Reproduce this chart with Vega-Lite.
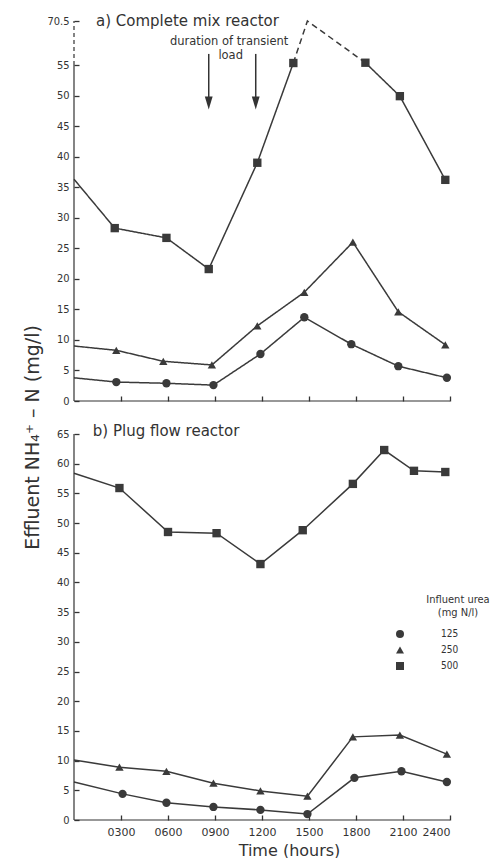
{
  "$schema": "https://vega.github.io/schema/vega-lite/v6.json",
  "background": "#ffffff",
  "padding": {"left": 22, "top": 14, "right": 0, "bottom": 0},
  "bounds": "flush",
  "spacing": 33,
  "config": {
    "font": "DejaVu Sans",
    "view": {"stroke": null},
    "axis": {
      "labelColor": "#333333",
      "titleColor": "#333333",
      "labelFont": "DejaVu Sans Condensed",
      "titleFont": "DejaVu Sans",
      "labelFontSize": 11
    },
    "text": {"font": "DejaVu Sans", "color": "#333333"}
  },
  "datasets": {
    "obs": [
      {"panel": "a", "series": "125", "seg": "a125", "dash": "solid", "hour": 0, "value": 3.8, "marker": false},
      {"panel": "a", "series": "125", "seg": "a125", "dash": "solid", "hour": 2.7, "value": 3.1, "marker": true},
      {"panel": "a", "series": "125", "seg": "a125", "dash": "solid", "hour": 5.9, "value": 2.9, "marker": true},
      {"panel": "a", "series": "125", "seg": "a125", "dash": "solid", "hour": 8.9, "value": 2.6, "marker": true},
      {"panel": "a", "series": "125", "seg": "a125", "dash": "solid", "hour": 11.9, "value": 7.7, "marker": true},
      {"panel": "a", "series": "125", "seg": "a125", "dash": "solid", "hour": 14.7, "value": 13.7, "marker": true},
      {"panel": "a", "series": "125", "seg": "a125", "dash": "solid", "hour": 17.7, "value": 9.3, "marker": true},
      {"panel": "a", "series": "125", "seg": "a125", "dash": "solid", "hour": 20.7, "value": 5.7, "marker": true},
      {"panel": "a", "series": "125", "seg": "a125", "dash": "solid", "hour": 23.8, "value": 3.8, "marker": true},
      {"panel": "a", "series": "250", "seg": "a250", "dash": "solid", "hour": 0, "value": 9.0, "marker": false},
      {"panel": "a", "series": "250", "seg": "a250", "dash": "solid", "hour": 2.7, "value": 8.3, "marker": true},
      {"panel": "a", "series": "250", "seg": "a250", "dash": "solid", "hour": 5.7, "value": 6.5, "marker": true},
      {"panel": "a", "series": "250", "seg": "a250", "dash": "solid", "hour": 8.8, "value": 5.9, "marker": true},
      {"panel": "a", "series": "250", "seg": "a250", "dash": "solid", "hour": 11.7, "value": 12.3, "marker": true},
      {"panel": "a", "series": "250", "seg": "a250", "dash": "solid", "hour": 14.7, "value": 17.8, "marker": true},
      {"panel": "a", "series": "250", "seg": "a250", "dash": "solid", "hour": 17.8, "value": 26.0, "marker": true},
      {"panel": "a", "series": "250", "seg": "a250", "dash": "solid", "hour": 20.7, "value": 14.6, "marker": true},
      {"panel": "a", "series": "250", "seg": "a250", "dash": "solid", "hour": 23.7, "value": 9.2, "marker": true},
      {"panel": "a", "series": "500", "seg": "a500-1", "dash": "solid", "hour": 0, "value": 36.3, "marker": false},
      {"panel": "a", "series": "500", "seg": "a500-1", "dash": "solid", "hour": 2.6, "value": 28.3, "marker": true},
      {"panel": "a", "series": "500", "seg": "a500-1", "dash": "solid", "hour": 5.9, "value": 26.7, "marker": true},
      {"panel": "a", "series": "500", "seg": "a500-1", "dash": "solid", "hour": 8.6, "value": 21.6, "marker": true},
      {"panel": "a", "series": "500", "seg": "a500-1", "dash": "solid", "hour": 11.7, "value": 39.0, "marker": true},
      {"panel": "a", "series": "500", "seg": "a500-1", "dash": "solid", "hour": 14.0, "value": 55.7, "marker": true},
      {"panel": "a", "series": "500", "seg": "a500-2", "dash": "dashed", "hour": 14.0, "value": 55.7, "marker": false},
      {"panel": "a", "series": "500", "seg": "a500-2", "dash": "dashed", "hour": 14.9, "value": 70.5, "marker": false},
      {"panel": "a", "series": "500", "seg": "a500-2", "dash": "dashed", "hour": 18.6, "value": 55.8, "marker": false},
      {"panel": "a", "series": "500", "seg": "a500-3", "dash": "solid", "hour": 18.6, "value": 55.8, "marker": true},
      {"panel": "a", "series": "500", "seg": "a500-3", "dash": "solid", "hour": 20.8, "value": 49.9, "marker": true},
      {"panel": "a", "series": "500", "seg": "a500-3", "dash": "solid", "hour": 23.7, "value": 36.2, "marker": true},
      {"panel": "b", "series": "125", "seg": "b125", "dash": "solid", "hour": 0, "value": 6.4, "marker": false},
      {"panel": "b", "series": "125", "seg": "b125", "dash": "solid", "hour": 3.1, "value": 4.4, "marker": true},
      {"panel": "b", "series": "125", "seg": "b125", "dash": "solid", "hour": 5.9, "value": 2.9, "marker": true},
      {"panel": "b", "series": "125", "seg": "b125", "dash": "solid", "hour": 8.9, "value": 2.2, "marker": true},
      {"panel": "b", "series": "125", "seg": "b125", "dash": "solid", "hour": 11.9, "value": 1.7, "marker": true},
      {"panel": "b", "series": "125", "seg": "b125", "dash": "solid", "hour": 14.9, "value": 1.0, "marker": true},
      {"panel": "b", "series": "125", "seg": "b125", "dash": "solid", "hour": 17.9, "value": 7.1, "marker": true},
      {"panel": "b", "series": "125", "seg": "b125", "dash": "solid", "hour": 20.9, "value": 8.2, "marker": true},
      {"panel": "b", "series": "125", "seg": "b125", "dash": "solid", "hour": 23.8, "value": 6.4, "marker": true},
      {"panel": "b", "series": "250", "seg": "b250", "dash": "solid", "hour": 0, "value": 10.1, "marker": false},
      {"panel": "b", "series": "250", "seg": "b250", "dash": "solid", "hour": 2.9, "value": 8.9, "marker": true},
      {"panel": "b", "series": "250", "seg": "b250", "dash": "solid", "hour": 5.9, "value": 8.2, "marker": true},
      {"panel": "b", "series": "250", "seg": "b250", "dash": "solid", "hour": 8.9, "value": 6.2, "marker": true},
      {"panel": "b", "series": "250", "seg": "b250", "dash": "solid", "hour": 11.9, "value": 4.9, "marker": true},
      {"panel": "b", "series": "250", "seg": "b250", "dash": "solid", "hour": 14.9, "value": 4.0, "marker": true},
      {"panel": "b", "series": "250", "seg": "b250", "dash": "solid", "hour": 17.8, "value": 14.0, "marker": true},
      {"panel": "b", "series": "250", "seg": "b250", "dash": "solid", "hour": 20.8, "value": 14.3, "marker": true},
      {"panel": "b", "series": "250", "seg": "b250", "dash": "solid", "hour": 23.8, "value": 11.1, "marker": true},
      {"panel": "b", "series": "500", "seg": "b500", "dash": "solid", "hour": 0, "value": 58.4, "marker": false},
      {"panel": "b", "series": "500", "seg": "b500", "dash": "solid", "hour": 2.9, "value": 55.9, "marker": true},
      {"panel": "b", "series": "500", "seg": "b500", "dash": "solid", "hour": 6.0, "value": 48.5, "marker": true},
      {"panel": "b", "series": "500", "seg": "b500", "dash": "solid", "hour": 9.1, "value": 48.3, "marker": true},
      {"panel": "b", "series": "500", "seg": "b500", "dash": "solid", "hour": 11.9, "value": 43.1, "marker": true},
      {"panel": "b", "series": "500", "seg": "b500", "dash": "solid", "hour": 14.6, "value": 48.8, "marker": true},
      {"panel": "b", "series": "500", "seg": "b500", "dash": "solid", "hour": 17.8, "value": 56.6, "marker": true},
      {"panel": "b", "series": "500", "seg": "b500", "dash": "solid", "hour": 19.8, "value": 62.3, "marker": true},
      {"panel": "b", "series": "500", "seg": "b500", "dash": "solid", "hour": 21.7, "value": 58.8, "marker": true},
      {"panel": "b", "series": "500", "seg": "b500", "dash": "solid", "hour": 23.7, "value": 58.6, "marker": true}
    ],
    "load": [
      {"event": "start of transient load", "hour": 8.6},
      {"event": "end of transient load", "hour": 11.6}
    ]
  },
  "vconcat": [
    {
      "width": 376,
      "height": 380,
      "encoding": {
        "x": {"type": "quantitative", "title": null,
              "scale": {"domain": [0, 24], "nice": false, "zero": false},
              "axis": {"values": [3, 6, 9, 12, 15, 18, 21, 24], "labels": false, "title": null,
                       "ticks": false, "domain": false, "labelOverlap": false,
                       "grid": true, "gridDash": [0, 375, 6, 2000], "gridColor": "#333333", "gridWidth": 1.3, "gridOpacity": 1}},
        "y": {"type": "quantitative", "title": null,
              "scale": {"domain": [0, 55, 70.5], "range": [380, 44, 0], "nice": false, "zero": false},
              "axis": {"values": [0, 5, 10, 15, 20, 25, 30, 35, 40, 45, 50, 55, 70.5], "title": null,
                       "labelExpr": "format(datum.value, '~g')", "labelOverlap": false, "labelBound": false,
                       "ticks": false, "labelPadding": 5, "domain": false,
                       "grid": true, "gridDash": [5, 2000], "gridColor": "#333333", "gridWidth": 1.3, "gridOpacity": 1}}
      },
      "layer": [
        {
          "data": {"name": "obs"},
          "transform": [{"filter": "datum.panel == 'a'"}],
          "mark": {"type": "line", "color": "#3a3a3a", "strokeWidth": 1.5},
          "encoding": {
            "x": {"field": "hour"},
            "y": {"field": "value"},
            "detail": {"field": "seg"},
            "strokeDash": {"field": "dash", "type": "nominal",
                           "scale": {"domain": ["solid", "dashed"], "range": [[1, 0], [6, 4]]}, "legend": null}
          }
        },
        {
          "data": {"name": "obs"},
          "transform": [{"filter": "datum.panel == 'a' && datum.marker"}],
          "mark": {"type": "point", "filled": true, "opacity": 1, "color": "#3a3a3a", "size": 70},
          "encoding": {
            "x": {"field": "hour"},
            "y": {"field": "value"},
            "shape": {"field": "series", "type": "nominal",
                      "scale": {"domain": ["125", "250", "500"], "range": ["circle", "triangle-up", "square"]}, "legend": null}
          }
        },
        {
          "data": {"values": [{}]},
          "mark": {"type": "rule", "color": "#333333", "strokeWidth": 1.2},
          "encoding": {
            "x": {"datum": 0},
            "y": {"datum": 0},
            "y2": {"datum": 55}
          }
        },
        {
          "data": {"values": [{}]},
          "mark": {"type": "rule", "color": "#333333", "strokeWidth": 1.2, "strokeDash": [4, 3]},
          "encoding": {
            "x": {"datum": 0},
            "y": {"datum": 55},
            "y2": {"datum": 70.5}
          }
        },
        {
          "data": {"values": [{}]},
          "mark": {"type": "rule", "color": "#333333", "strokeWidth": 1.2},
          "encoding": {
            "x": {"datum": 0},
            "x2": {"datum": 24},
            "y": {"datum": 0}
          }
        },
        {
          "data": {"name": "load"},
          "mark": {"type": "rule", "color": "#333333", "strokeWidth": 1.5},
          "encoding": {
            "x": {"field": "hour"},
            "y": {"datum": 58.9},
            "y2": {"datum": 49.4}
          }
        },
        {
          "data": {"name": "load"},
          "mark": {"type": "point", "filled": true, "opacity": 1, "color": "#333333",
                   "shape": "M-0.6,-1L0.6,-1L0,1Z", "size": 169},
          "encoding": {
            "x": {"field": "hour"},
            "y": {"datum": 48.8}
          }
        },
        {
          "data": {"values": [{}]},
          "mark": {"type": "text", "text": "a) Complete mix reactor", "fontSize": 15, "align": "left", "baseline": "middle"},
          "encoding": {
            "x": {"datum": 1.4},
            "y": {"datum": 70.5}
          }
        },
        {
          "data": {"values": [{}]},
          "mark": {"type": "text", "text": "duration of transient", "fontSize": 11.5, "align": "center", "baseline": "middle"},
          "encoding": {
            "x": {"datum": 9.9},
            "y": {"datum": 63.1}
          }
        },
        {
          "data": {"values": [{}]},
          "mark": {"type": "text", "text": "load", "fontSize": 11.5, "align": "center", "baseline": "middle"},
          "encoding": {
            "x": {"datum": 10.0},
            "y": {"datum": 58.2}
          }
        }
      ]
    },
    {
      "width": 376,
      "height": 386,
      "encoding": {
        "x": {"type": "quantitative",
              "scale": {"domain": [0, 24], "nice": false, "zero": false},
              "axis": {"values": [3, 6, 9, 12, 15, 18, 21, 24],
                       "labelExpr": "datum.value < 10 ? '0' + datum.value + '00' : datum.value + '00'",
                       "labelFont": "DejaVu Sans", "labelPadding": 6, "labelOverlap": false, "labelBound": false,
                       "ticks": false, "domain": false,
                       "grid": true, "gridDash": [0, 381, 6, 2000], "gridColor": "#333333", "gridWidth": 1.3, "gridOpacity": 1,
                       "title": "Time (hours)", "titleFontSize": 16, "titleFontWeight": "normal",
                       "titleX": 215, "titleY": 30, "titleBaseline": "middle", "titleAlign": "center"}},
        "y": {"type": "quantitative",
              "scale": {"domain": [0, 65], "nice": false, "zero": false},
              "axis": {"values": [0, 5, 10, 15, 20, 25, 30, 35, 40, 45, 50, 55, 60, 65],
                       "labelExpr": "format(datum.value, '~g')", "labelOverlap": false, "labelBound": false,
                       "ticks": false, "labelPadding": 5, "domain": false,
                       "grid": true, "gridDash": [5, 2000], "gridColor": "#333333", "gridWidth": 1.3, "gridOpacity": 1,
                       "title": "Effluent NH₄⁺ – N  (mg/l)", "titleFontSize": 19, "titleFontWeight": "normal",
                       "titleX": -42, "titleY": 3, "titleBaseline": "middle", "titleAlign": "center", "titleAngle": -90}}
      },
      "layer": [
        {
          "data": {"name": "obs"},
          "transform": [{"filter": "datum.panel == 'b'"}],
          "mark": {"type": "line", "color": "#3a3a3a", "strokeWidth": 1.5},
          "encoding": {
            "x": {"field": "hour"},
            "y": {"field": "value"},
            "detail": {"field": "seg"}
          }
        },
        {
          "data": {"name": "obs"},
          "transform": [{"filter": "datum.panel == 'b' && datum.marker"}],
          "mark": {"type": "point", "filled": true, "opacity": 1, "color": "#3a3a3a", "size": 70},
          "encoding": {
            "x": {"field": "hour"},
            "y": {"field": "value"},
            "shape": {"field": "series", "type": "nominal",
                      "scale": {"domain": ["125", "250", "500"], "range": ["circle", "triangle-up", "square"]},
                      "legend": {"orient": "none", "legendX": 321, "legendY": 160,
                                 "title": ["Influent urea", "(mg N/l)"],
                                 "titleFont": "DejaVu Sans Condensed", "titleFontSize": 11, "titleFontWeight": "normal",
                                 "titleLineHeight": 13,
                                 "titleColor": "#333333", "titleAnchor": "end", "titleAlign": "center", "titlePadding": 11,
                                 "labelFont": "DejaVu Sans Condensed", "labelFontSize": 10, "labelColor": "#333333",
                                 "labelOffset": 36, "rowPadding": 6, "symbolSize": 64,
                                 "symbolFillColor": "#3a3a3a", "symbolStrokeWidth": 0}}
          }
        },
        {
          "data": {"values": [{}]},
          "mark": {"type": "rule", "color": "#333333", "strokeWidth": 1.2},
          "encoding": {
            "x": {"datum": 0},
            "y": {"datum": 0},
            "y2": {"datum": 65}
          }
        },
        {
          "data": {"values": [{}]},
          "mark": {"type": "rule", "color": "#333333", "strokeWidth": 1.2},
          "encoding": {
            "x": {"datum": 0},
            "x2": {"datum": 24},
            "y": {"datum": 0}
          }
        },
        {
          "data": {"values": [{}]},
          "mark": {"type": "text", "text": "b) Plug flow reactor", "fontSize": 15, "align": "left", "baseline": "middle", "dy": -3},
          "encoding": {
            "x": {"datum": 1.2},
            "y": {"datum": 65}
          }
        }
      ]
    }
  ],
  "resolve": {"scale": {"shape": "independent", "x": "independent", "y": "independent"},
              "legend": {"shape": "independent"}}
}
